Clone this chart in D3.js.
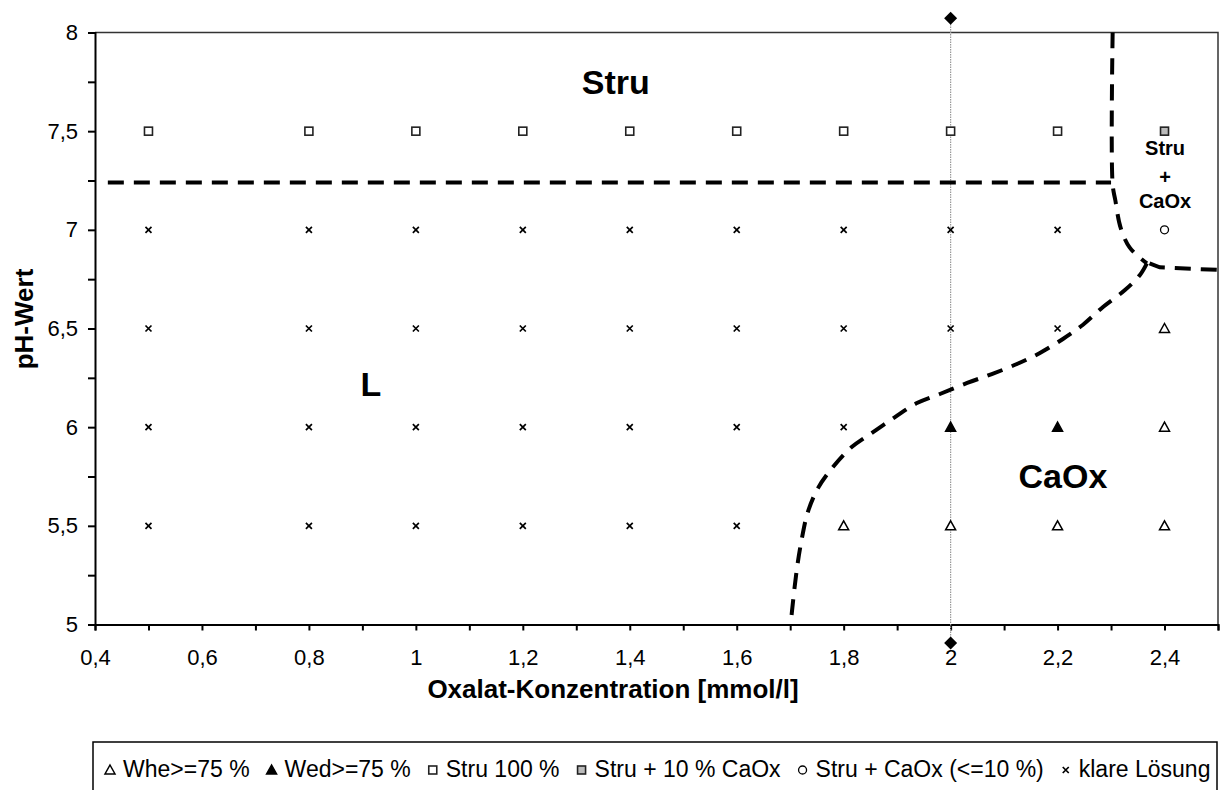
<html>
<script src="https://d3js.org/d3.v7.min.js"></script>
<style>
    body { margin: 0; background: white; }
    svg { font-family: "Liberation Sans", Arial, sans-serif; }
    .axis path, .axis line { stroke: black; stroke-width: 2px; }
    .axis text { font-size: 22px; fill: black; }
    .boundary { fill: none; stroke: black; stroke-width: 4px; stroke-dasharray: 16 10; }
    .title { font-weight: bold; font-size: 26px; }
    .region { font-weight: bold; text-anchor: middle; }
</style>
<svg width=1220 height=790></svg>
<script>
    // --- data ---
    let xTickValues = [0.4,0.5,0.6,0.7,0.8,0.9,1,1.1,1.2,1.3,1.4,1.5,1.6,1.7,1.8,1.9,2,2.1,2.2,2.3,2.4,2.5];
    let xTickLabels = ["0,4","","0,6","","0,8","","1","","1,2","","1,4","","1,6","","1,8","","2","","2,2","","2,4",""];
    let yTickValues = [5,5.25,5.5,5.75,6,6.25,6.5,6.75,7,7.25,7.5,7.75,8];
    let yTickLabels = ["5","","5,5","","6","","6,5","","7","","7,5","","8"];

    // Whe>=75 %
    let wheX = [1.8,2.0,2.2,2.4,2.4,2.4];
    let wheY = [5.5,5.5,5.5,5.5,6,6.5];
    // Wed>=75 %
    let wedX = [2.0,2.2];
    let wedY = [6,6];
    // Stru 100 %
    let struX = [0.5,0.8,1,1.2,1.4,1.6,1.8,2,2.2];
    let struY = [7.5,7.5,7.5,7.5,7.5,7.5,7.5,7.5,7.5];
    // Stru + 10 % CaOx
    let struCaX = [2.4];
    let struCaY = [7.5];
    // Stru + CaOx (<=10 %)
    let struLowX = [2.4];
    let struLowY = [7];
    // klare Loesung
    let klarX = [0.5,0.8,1,1.2,1.4,1.6,1.8,2,2.2,
                 0.5,0.8,1,1.2,1.4,1.6,1.8,2,2.2,
                 0.5,0.8,1,1.2,1.4,1.6,1.8,
                 0.5,0.8,1,1.2,1.4,1.6];
    let klarY = [7,7,7,7,7,7,7,7,7,
                 6.5,6.5,6.5,6.5,6.5,6.5,6.5,6.5,6.5,
                 6,6,6,6,6,6,6,
                 5.5,5.5,5.5,5.5,5.5,5.5];
    // marker line at 2 mmol/l
    let refX = [2, 2];
    let refY = [4.906, 8.072];

    // phase boundaries
    let bndStru = [[0.424,7.24],[2.3,7.24]];
    let bndRight = [[2.303,8],[2.303,7.23],[2.308,7.15],[2.318,7.01],[2.335,6.91],[2.367,6.83]];
    let bndRight2 = [[2.372,6.83],[2.391,6.81],[2.5,6.797]];
    let bndCaOx = [[2.367,6.83],[2.354,6.771],[2.326,6.695],[2.285,6.609],[2.247,6.518],[2.21,6.447],
                   [2.167,6.376],[2.124,6.32],[2.077,6.269],[2.031,6.224],[1.98,6.168],[1.937,6.122],
                   [1.896,6.051],[1.855,5.975],[1.815,5.899],[1.78,5.798],[1.752,5.691],[1.733,5.57],
                   [1.722,5.438],[1.713,5.291],[1.703,5.058],[1.701,5.0]];

    let regionLabels = [
        {t:"Stru", x:1.374, y:7.69, s:34},
        {t:"L", x:0.916, y:6.158, s:34},
        {t:"CaOx", x:2.21, y:5.691, s:34},
        {t:"Stru", x:2.401, y:7.379, s:20},
        {t:"+", x:2.401, y:7.232, s:20},
        {t:"CaOx", x:2.401, y:7.11, s:20}
    ];

    let legendNames = ["Whe>=75 %","Wed>=75 %","Stru 100 %","Stru + 10 % CaOx","Stru + CaOx (<=10 %)","klare Lösung"];
    let legendKinds = ["triOpen","triFill","sq","sqGray","circ","cross"];

    // --- layout ---
    let svg = d3.select('svg'),
        margin = { top: 32.5, right: 2, bottom: 165.5, left: 95 },
        width = +svg.attr('width') - margin.left - margin.right,
        height = +svg.attr('height') - margin.top - margin.bottom;

    let x = d3.scaleLinear().domain([0.4, 2.5]).range([margin.left, margin.left + width]);
    let y = d3.scaleLinear().domain([5, 8]).range([margin.top + height, margin.top]);

    // frame top / right
    svg.append('path')
        .attr('d', `M${x(0.4)},${y(8)}H${x(2.5)}V${y(5)}`)
        .attr('fill', 'none').attr('stroke', '#333').attr('stroke-width', 1.5);

    let xAxis = svg.append('g').attr('class', 'axis')
        .attr('transform', `translate(0,${y(5)})`)
        .call(d3.axisBottom(x).tickValues(xTickValues)
            .tickFormat((d, i) => xTickLabels[i]).tickSizeOuter(0).tickSize(6).tickPadding(19));
    let yAxis = svg.append('g').attr('class', 'axis')
        .attr('transform', `translate(${x(0.4)},0)`)
        .call(d3.axisLeft(y).tickValues(yTickValues)
            .tickFormat((d, i) => yTickLabels[i]).tickSizeOuter(0).tickSize(7).tickPadding(10));
    xAxis.selectAll('text').attr('font-family', null).attr('font-size', null);
    yAxis.selectAll('text').attr('font-family', null).attr('font-size', null);
    svg.selectAll('.axis .domain').attr('stroke-width', 2.5);

    // axis titles
    svg.append('text').attr('class', 'title')
        .attr('x', 613).attr('y', 698).attr('text-anchor', 'middle')
        .text('Oxalat-Konzentration [mmol/l]');
    svg.append('text').attr('class', 'title')
        .attr('transform', `translate(33,319) rotate(-90)`)
        .attr('text-anchor', 'middle')
        .text('pH-Wert');

    // vertical reference line with diamonds
    svg.append('line')
        .attr('x1', x(refX[0])).attr('x2', x(refX[1]))
        .attr('y1', y(refY[0])).attr('y2', y(refY[1]))
        .attr('stroke', '#999').attr('stroke-width', 1.2).attr('stroke-dasharray', '1.5 1');

    // boundaries
    let line = d3.line().x(d => x(d[0])).y(d => y(d[1]));
    svg.append('path').attr('class', 'boundary').attr('d', line(bndStru));
    svg.append('path').attr('class', 'boundary').attr('d', line.curve(d3.curveCatmullRom)(bndRight));
    svg.append('path').attr('class', 'boundary').attr('d', line.curve(d3.curveLinear)(bndRight2));
    svg.append('path').attr('class', 'boundary').attr('d', line.curve(d3.curveCatmullRom)(bndCaOx));

    // marker drawing
    function marker(g, kind) {
        if (kind === 'triOpen' || kind === 'triFill') {
            g.append('path').attr('d', 'M0,-5L5,4L-5,4Z')
                .attr('fill', kind === 'triFill' ? 'black' : 'white')
                .attr('stroke', 'black').attr('stroke-width', 1.5);
        } else if (kind === 'sq' || kind === 'sqGray') {
            g.append('rect').attr('x', -4).attr('y', -4).attr('width', 8).attr('height', 8)
                .attr('fill', kind === 'sqGray' ? '#bbb' : 'white')
                .attr('stroke', '#222').attr('stroke-width', 1.6);
        } else if (kind === 'circ') {
            g.append('circle').attr('r', 4).attr('fill', 'white')
                .attr('stroke', 'black').attr('stroke-width', 1.3);
        } else if (kind === 'cross') {
            g.append('path').attr('d', 'M-3,-3L3,3M-3,3L3,-3')
                .attr('stroke', 'black').attr('stroke-width', 1.7);
        } else if (kind === 'diamond') {
            g.append('path').attr('d', 'M0,-6.5L6.5,0L0,6.5L-6.5,0Z').attr('fill', 'black');
        }
    }
    function series(xs, ys, kind) {
        svg.append('g').selectAll('g')
            .data(xs.map((d, i) => [d, ys[i]]))
            .enter().append('g')
            .attr('transform', d => `translate(${x(d[0])},${y(d[1])})`)
            .each(function() { marker(d3.select(this), kind); });
    }
    series(klarX, klarY, 'cross');
    series(struX, struY, 'sq');
    series(struCaX, struCaY, 'sqGray');
    series(struLowX, struLowY, 'circ');
    series(wheX, wheY, 'triOpen');
    series(wedX, wedY, 'triFill');
    series(refX, refY, 'diamond');

    // region labels
    svg.selectAll('.region').data(regionLabels).enter().append('text')
        .attr('class', 'region')
        .attr('x', d => x(d.x)).attr('y', d => y(d.y))
        .attr('font-size', d => d.s)
        .text(d => d.t);

    // legend
    svg.append('rect').attr('x', 93).attr('y', 742).attr('width', 1124).attr('height', 70)
        .attr('fill', 'white').attr('stroke', 'black').attr('stroke-width', 1.5);
    let lx = 104;
    legendNames.forEach((name, i) => {
        let g = svg.append('g').attr('transform', `translate(${lx + 6},770)`);
        marker(g, legendKinds[i]);
        let t = svg.append('text').attr('x', lx + 19).attr('y', 777)
            .attr('font-size', 23).text(name);
        lx += 19 + t.node().getComputedTextLength() + 16;
    });
</script>
</html>
